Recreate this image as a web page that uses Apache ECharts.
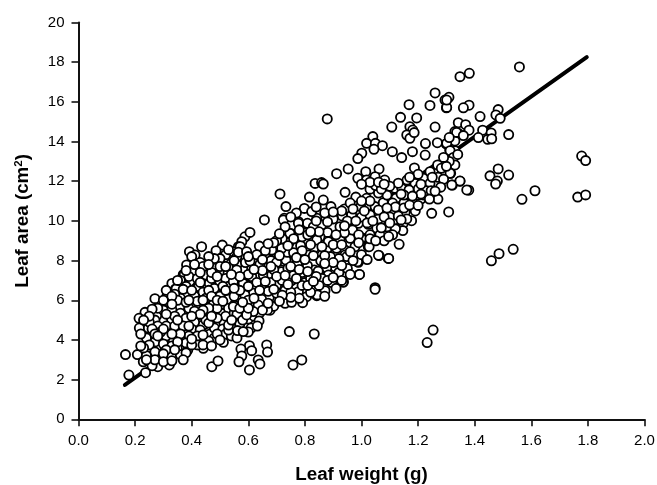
<!DOCTYPE html>
<html><head><meta charset="utf-8">
<style>html,body{margin:0;padding:0;background:#fff}#c{width:657px;height:485px}</style>
<script src="https://cdn.jsdelivr.net/npm/echarts@6/dist/echarts.min.js"></script>
</head><body><div id="c"></div>
<script>
var xTitle = 'Leaf weight (g)';
var yTitle = '{a|Leaf area (cm}{s|2}{a|)}';
var fitLine = [[0.164,1.73],[1.796,18.25]];
var upperLeaves = [
[1.558,17.76],[1.381,17.44],[1.348,17.27],[1.309,16.23],[1.295,16.09],[1.30,15.7],[1.38,15.83],[1.36,15.7],[1.419,15.26],[1.483,15.61],[1.475,15.34],[1.49,15.17],[1.52,14.35],[1.342,14.95],[1.368,14.85],[1.38,14.57],[1.428,14.57],[1.458,14.43],[1.413,14.2],[1.446,14.11],[1.46,14.14],[1.33,14.5],[1.342,14.41],[1.33,14.03],[1.299,13.88],[1.312,13.57],[1.33,13.54],[1.322,13.1],[1.328,12.82],[1.295,12.87],[1.287,12.48],[1.315,12.4],[1.348,12.0],[1.321,11.81],[1.379,11.55],[1.483,12.62],[1.454,12.27],[1.52,12.31],[1.48,12.01],[1.474,11.86],
[0.879,15.14],[1.168,15.86],[1.242,15.82],[1.301,15.72],[1.301,16.09],[1.26,16.45],[1.138,15.22],[1.195,15.19],[1.107,14.73],[1.171,14.75],[1.181,14.58],[1.16,14.33],[1.171,14.16],[1.186,14.45],[1.26,14.73],[1.336,14.46],[1.226,13.9],[1.268,13.94],[1.301,13.91],[1.04,14.25],[1.018,13.91],[1.049,13.91],[1.074,13.79],[1.044,13.61],[1.001,13.41],[0.987,13.14],[1.109,13.49],[1.142,13.19],[1.18,13.49],[1.225,13.32],[1.313,13.54],[1.325,13.2],[0.953,12.62],[0.912,12.38],[1.187,12.67],[1.269,12.82],[1.282,12.65],[1.33,12.82],[1.313,12.4],[1.242,12.48],[1.015,12.48],[1.062,12.62],[0.987,12.15],[1.018,12.06],[1.048,12.23],[1.082,12.06],[0.836,11.89],[0.859,11.93],[0.865,11.86],[1.05,11.78],[1.161,12.06],[1.218,12.15],[1.189,11.89],[1.242,11.89],[1.348,12.01],[1.319,11.81],[1.372,11.56],[0.712,11.36],[0.942,11.44],[0.816,11.2],[1.118,11.64],[1.142,11.64],[1.168,11.56],[1.201,11.61],[1.23,11.52],[1.246,11.52],
[1.27,12.2],[1.29,12.1],[1.25,12.2],[1.2,12.35],[1.17,12.2],[1.13,11.9],[1.1,11.75],[1.07,11.6],[1.28,11.7],[1.26,11.5],[1.21,11.85],[1.34,13.35],[1.31,13.0],[1.3,12.75],[1.29,13.2],[1.36,14.3],[1.31,14.2],[1.15,11.3],[1.24,11.1],[1.21,11.35],[1.18,11.25],[1.14,11.35],[1.03,11.95],[1.0,11.85],[1.06,11.95],[1.08,11.85]
];
var outliers = [
[1.778,13.27],[1.792,13.04],[1.764,11.2],[1.792,11.31],[1.613,11.52],[1.567,11.09],[1.308,10.45],[1.536,8.57],[1.486,8.35],[1.459,7.99],[1.2,10.78],[1.248,10.38],[1.133,8.82],[1.096,9.21],[1.096,8.11],[1.06,8.27],[1.048,6.63],[1.048,6.55],[1.232,3.87],[1.253,4.5],[0.745,4.42],[0.833,4.3],[0.758,2.74],[0.789,2.99],[0.604,3.71],[0.574,3.54],[0.665,3.75],[0.668,3.39],[0.612,3.46],[0.577,3.19],[0.567,2.9],[0.635,2.99],[0.641,2.79],[0.604,2.49],[0.471,2.65],[0.493,2.94],[0.178,2.23],[0.237,2.35],[0.166,3.26]
];
var midBand = [
[0.75,9.37],[0.745,8.95],[0.785,8.75],[0.733,8.06],[0.7,8.37],[0.683,8.53],[0.718,7.53],[0.771,7.83],[0.806,9.84],[0.842,10.13],[0.865,11.05],[0.892,10.72],[0.798,10.63],[0.824,10.47],[0.777,9.96],[0.88,9.42],[0.924,9.71],[0.932,10.25],[0.965,10.3],[0.989,9.88],[1.024,9.83],[1.054,9.63],[0.997,10.72],[1.018,11.14],[1.048,10.72],[1.077,10.92],[1.122,11.14],[1.118,10.55],[1.154,10.43],[1.083,10.38],[1.113,10.01],[0.969,9.51],[1.006,9.12],[1.024,8.7],[0.977,8.7],[0.942,8.53],[0.912,8.62],[0.877,8.53],[0.836,8.58],[0.803,8.28],[0.859,8.03],[0.906,7.69],[0.879,7.27],[0.895,6.89],[0.842,6.57],[0.842,6.23],[0.871,6.48],[0.806,6.18],[0.777,6.43],[0.753,6.99],[0.792,5.88],[0.73,5.85],[0.7,6.77],[0.8,6.89],[0.833,7.53],[1.065,9.29],[0.924,9.04],[0.853,9.2],[0.883,8.95],[0.96,9.12],[0.942,8.28],[0.733,10.72],[0.727,10.13],[0.724,10.05],[1.148,9.88],[1.146,9.51],[1.177,10.01],[0.992,7.3],[0.989,7.91],[0.936,6.92],
[0.606,9.42],[0.571,8.7],[0.639,8.73],[0.565,8.42],[0.594,8.45],[0.606,7.98],[0.641,7.81],[0.667,8.08],[0.559,7.53],[0.612,7.19],[0.653,7.27],[0.683,7.27],[0.718,7.44],[0.733,8.03],[0.738,8.42],[0.718,8.62],[0.747,9.37],[0.745,8.92],[0.812,8.28],[0.773,7.83],[0.809,7.74],[0.833,8.65],[0.842,9.04],[0.809,9.88],[0.777,9.88],[0.968,9.54],[1.0,9.12],[1.027,8.7],[0.948,8.2],[0.986,7.94],[0.993,7.3],[1.062,8.25],[1.095,8.11],[0.856,7.99],[0.877,7.64],[0.847,7.47],[0.883,7.27],[0.935,6.92],[0.839,6.6],[0.844,6.27],[0.753,7.02],[0.753,5.9],[0.7,6.1],[0.674,6.15],[0.647,6.05],[0.618,6.35],[0.588,6.27],[0.582,6.85],[0.547,6.94],[0.668,5.51],[0.635,5.76],[0.638,4.96],[0.58,5.0],[0.541,5.0],[0.618,5.43],[0.632,4.7],[0.562,4.47],[0.582,4.42],[0.547,5.68],[0.57,5.6],[0.594,5.26],[0.6,6.0],
[0.72,9.1],[0.7,9.0],[0.76,8.4],[0.79,9.2],[0.83,9.7],[0.86,9.8],[0.9,10.1],[0.95,10.0],[1.0,10.2],[1.03,10.3],[1.06,10.1],[1.09,9.7],[1.12,9.6],[1.15,10.9],[1.18,11.0],[1.21,11.1],[1.19,10.5],[1.22,11.3],[1.26,11.9],[1.27,11.1],[1.11,10.9],[1.09,11.3],[1.06,11.4],[1.03,11.6],[0.98,11.2],[0.94,10.6],[0.96,10.9],[0.87,10.4],[0.84,10.7],[0.77,10.4],[0.75,10.2],[0.69,8.9],[0.66,8.5],[0.63,8.3],[0.6,8.2],[0.68,8.0],[0.7,7.9],[0.74,7.6],[0.79,7.4],[0.82,7.1],[0.76,7.25],[0.72,7.0],[0.68,6.9],[0.65,6.7],[0.63,6.9],[0.6,7.3],[0.57,7.2],[0.54,7.3],[0.52,7.7],[0.55,8.0],[0.67,6.45],[0.7,6.35],[0.73,6.5],[0.75,6.4],[0.79,6.75],[0.85,6.9],[0.86,7.1],[0.92,7.4],[0.95,7.6],[0.97,8.0],[1.0,8.3],[1.03,9.3],[1.08,9.0],[1.11,9.3],[0.92,8.1],[0.89,8.2],[0.86,8.7],[0.82,8.8],[0.79,8.5],[0.76,9.1],[0.81,9.3],[0.94,9.4],[0.99,9.3],[1.02,9.9],[0.91,9.3],[0.84,10.0],[0.65,7.5],[0.69,7.55],[0.77,7.1],[0.93,7.0],[0.82,6.4],[0.62,6.1],[0.65,5.5],[0.6,5.6],[0.58,5.9],[0.55,6.2],[0.52,6.5],[0.67,5.85],
[0.68,7.7],[0.71,8.25],[0.74,8.75],[0.77,8.15],[0.8,8.05],[0.83,8.25],[0.87,8.25],[0.9,8.8],[0.93,8.8],[0.96,8.45],[0.99,8.9],[1.03,9.1],[1.05,9.0],[1.07,9.65],[1.1,10.2],[1.13,10.25],[1.16,10.1],[1.06,10.55],[1.01,10.5],[0.97,10.6],[0.93,10.5],[0.9,10.45],[0.88,9.95],[0.85,9.45],[0.82,9.45],[0.78,9.55],[0.73,9.7],[0.71,9.35],[0.67,8.85],[0.65,8.05],[0.62,7.55],[0.7,7.2],[0.73,7.25],[0.75,7.7],[0.78,7.55],[0.81,7.45],[0.84,7.2],[0.88,7.0],[0.9,7.15],[0.91,6.6],[0.87,6.2],[0.85,6.75],[0.81,6.75],[0.78,6.1],[0.75,6.15],[0.72,6.25],[0.69,6.55],[0.66,6.95],[0.64,6.5],[0.6,6.7],[0.57,6.5],[0.55,6.6],[0.71,5.95],[0.74,6.8],[0.83,6.95],[0.96,7.3],[1.02,8.05],[0.93,7.75],[0.9,7.9],[0.87,7.85],[1.12,10.7],[1.15,10.65],[1.17,10.8],[1.2,11.3],[1.24,11.3],[1.09,10.65],[1.03,11.0],[1.0,11.0],[0.94,9.75],[0.98,10.0],[1.04,10.0],[1.08,10.2],[1.14,10.05],[1.1,9.9]
];
var lowerBand = [
[0.657,10.05],[0.588,9.2],[0.577,8.95],[0.565,8.7],[0.508,8.78],[0.486,8.5],[0.435,8.7],[0.392,8.45],[0.412,8.28],[0.515,8.16],[0.462,7.98],[0.547,8.45],[0.382,7.78],[0.428,7.61],[0.37,7.29],[0.447,7.32],[0.497,7.44],[0.477,7.61],[0.33,6.85],[0.362,6.82],[0.394,6.94],[0.462,6.85],[0.5,6.9],[0.548,6.75],[0.586,6.85],[0.343,6.57],[0.312,6.18],[0.27,6.08],[0.378,6.4],[0.418,6.65],[0.485,6.38],[0.303,5.74],[0.235,5.39],[0.214,5.09],[0.215,4.6],[0.276,5.22],[0.329,5.04],[0.37,5.34],[0.418,5.22],[0.359,5.68],[0.43,5.72],[0.477,5.8],[0.541,5.9],[0.677,5.5],[0.262,4.25],[0.247,4.6],[0.335,4.0],[0.382,4.87],[0.353,4.53],[0.44,4.75],[0.465,4.3],[0.441,3.95],[0.512,3.88],[0.565,4.5],[0.545,4.97],[0.247,3.46],[0.208,3.26],[0.229,2.9],[0.296,3.39],[0.349,3.58],[0.329,3.2],[0.282,2.87],[0.321,2.74],[0.276,3.66],[0.386,3.49],[0.441,3.58],
[0.374,7.31],[0.451,7.27],[0.345,6.57],[0.424,6.69],[0.468,5.34],[0.506,5.34],[0.514,4.84],
[0.52,8.3],[0.5,8.1],[0.43,7.9],[0.41,7.5],[0.39,7.2],[0.42,7.1],[0.47,7.1],[0.52,7.1],[0.56,7.1],[0.53,6.7],[0.48,6.6],[0.44,6.4],[0.41,6.2],[0.36,6.1],[0.34,6.3],[0.32,5.9],[0.3,5.5],[0.33,5.5],[0.36,5.35],[0.39,5.6],[0.42,5.95],[0.45,6.1],[0.5,6.2],[0.53,6.05],[0.49,5.6],[0.46,5.6],[0.53,5.6],[0.52,5.2],[0.55,5.35],[0.49,5.1],[0.45,5.0],[0.41,4.9],[0.38,5.1],[0.34,5.2],[0.31,5.3],[0.27,5.0],[0.25,4.9],[0.28,4.7],[0.31,4.7],[0.34,4.7],[0.37,4.7],[0.4,4.55],[0.43,4.5],[0.48,4.6],[0.51,4.55],[0.54,4.6],[0.48,4.1],[0.42,4.2],[0.39,4.2],[0.36,4.1],[0.31,4.2],[0.29,4.4],[0.26,4.55],[0.24,4.1],[0.27,3.9],[0.3,3.8],[0.33,3.7],[0.38,3.85],[0.42,3.75],[0.25,3.75],[0.26,3.2],[0.29,3.05],[0.31,3.5],[0.27,3.4],[0.24,3.2],[0.23,3.6],[0.36,3.25],[0.28,2.65],[0.26,2.7],[0.38,3.35],[0.4,3.75],[0.46,3.95],[0.52,4.3],[0.54,4.2],[0.56,5.3],[0.6,5.05],[0.61,4.6],[0.58,7.6],[0.63,7.6],[0.6,6.5],[0.65,6.3],[0.69,5.7],[0.28,5.6],[0.26,5.55],[0.35,6.0],[0.31,6.5],[0.36,7.0],[0.38,6.7],[0.44,7.7],[0.48,8.1],[0.46,8.2],[0.4,8.2],
[0.3,6.0],[0.33,6.2],[0.37,6.55],[0.4,6.5],[0.43,6.9],[0.46,6.5],[0.51,6.7],[0.55,6.35],[0.57,6.0],[0.44,5.5],[0.41,5.45],[0.35,5.0],[0.39,4.7],[0.46,4.85],[0.49,4.3],[0.44,4.25],[0.36,4.3],[0.33,4.3],[0.3,4.55],[0.27,4.3],[0.22,4.3],[0.25,5.2],[0.23,5.0],[0.28,4.2],[0.35,3.9],[0.4,4.05],[0.44,3.75],[0.47,3.7],[0.34,3.5],[0.3,3.3],[0.27,3.0],[0.24,3.0],[0.3,2.9],[0.33,2.95],[0.37,3.0],[0.22,3.7],[0.5,4.0],[0.53,4.5],[0.56,4.1],[0.53,4.75],[0.57,4.8],[0.6,4.4],[0.47,5.2],[0.43,5.3],[0.4,5.2],[0.33,5.8],[0.38,5.9],[0.47,6.2],[0.49,6.0],[0.55,5.75],[0.51,5.95],[0.59,5.5],[0.62,5.2],[0.64,5.35],[0.47,7.4],[0.5,7.7],[0.54,7.7],[0.56,7.8],[0.49,7.2],[0.43,7.4],[0.41,7.8],[0.38,7.5],[0.35,7.0],[0.39,6.0],[0.44,6.0],[0.46,7.8],[0.53,8.55],[0.56,8.2],[0.59,7.9]
];
var labelFont = 'Liberation Sans, Arial, Helvetica, sans-serif';
var chart = echarts.init(document.getElementById('c'), null, {renderer:'canvas'});
chart.setOption({
  animation:false,
  backgroundColor:'#fff',
  grid:{left:78.5,right:12.5,top:22.5,bottom:65.7,containLabel:false,outerBoundsMode:'none'},
  xAxis:{type:'value',min:0,max:2,interval:0.2,name:xTitle,nameLocation:'middle',nameGap:46,
    nameTextStyle:{fontFamily:labelFont,fontWeight:'bold',fontSize:18.8,color:'#000'},
    axisLine:{onZero:false,lineStyle:{color:'#111',width:2}},
    axisTick:{show:true,length:7,lineStyle:{color:'#111',width:1.6}},
    axisLabel:{fontFamily:labelFont,fontSize:15,color:'#000',margin:14,formatter:function(v){return v.toFixed(1);}},
    splitLine:{show:false}},
  yAxis:{type:'value',min:0,max:20,interval:2,name:yTitle,nameLocation:'middle',nameGap:46,
    nameTextStyle:{fontFamily:labelFont,fontWeight:'bold',fontSize:18.8,color:'#000',
      rich:{a:{fontFamily:labelFont,fontWeight:'bold',fontSize:18.8,color:'#000'},
            s:{fontFamily:labelFont,fontWeight:'bold',fontSize:11.5,color:'#000',verticalAlign:'top',padding:[0,0,8,0]}}},
    axisLine:{onZero:false,lineStyle:{color:'#111',width:2}},
    axisTick:{show:true,length:7,lineStyle:{color:'#111',width:1.6}},
    axisLabel:{fontFamily:labelFont,fontSize:15,color:'#000',margin:14},
    splitLine:{show:false}},
  series:[
    {type:'line',data:fitLine,symbol:'none',z:1,lineStyle:{color:'#000',width:4,cap:'round'}},
    {type:'scatter',data:lowerBand.concat(midBand,upperLeaves,outliers),symbol:'circle',symbolSize:9.2,z:2,
     itemStyle:{color:'#fff',borderColor:'#000',borderWidth:1.8,opacity:1},large:false}
  ]
});
</script></body></html>
